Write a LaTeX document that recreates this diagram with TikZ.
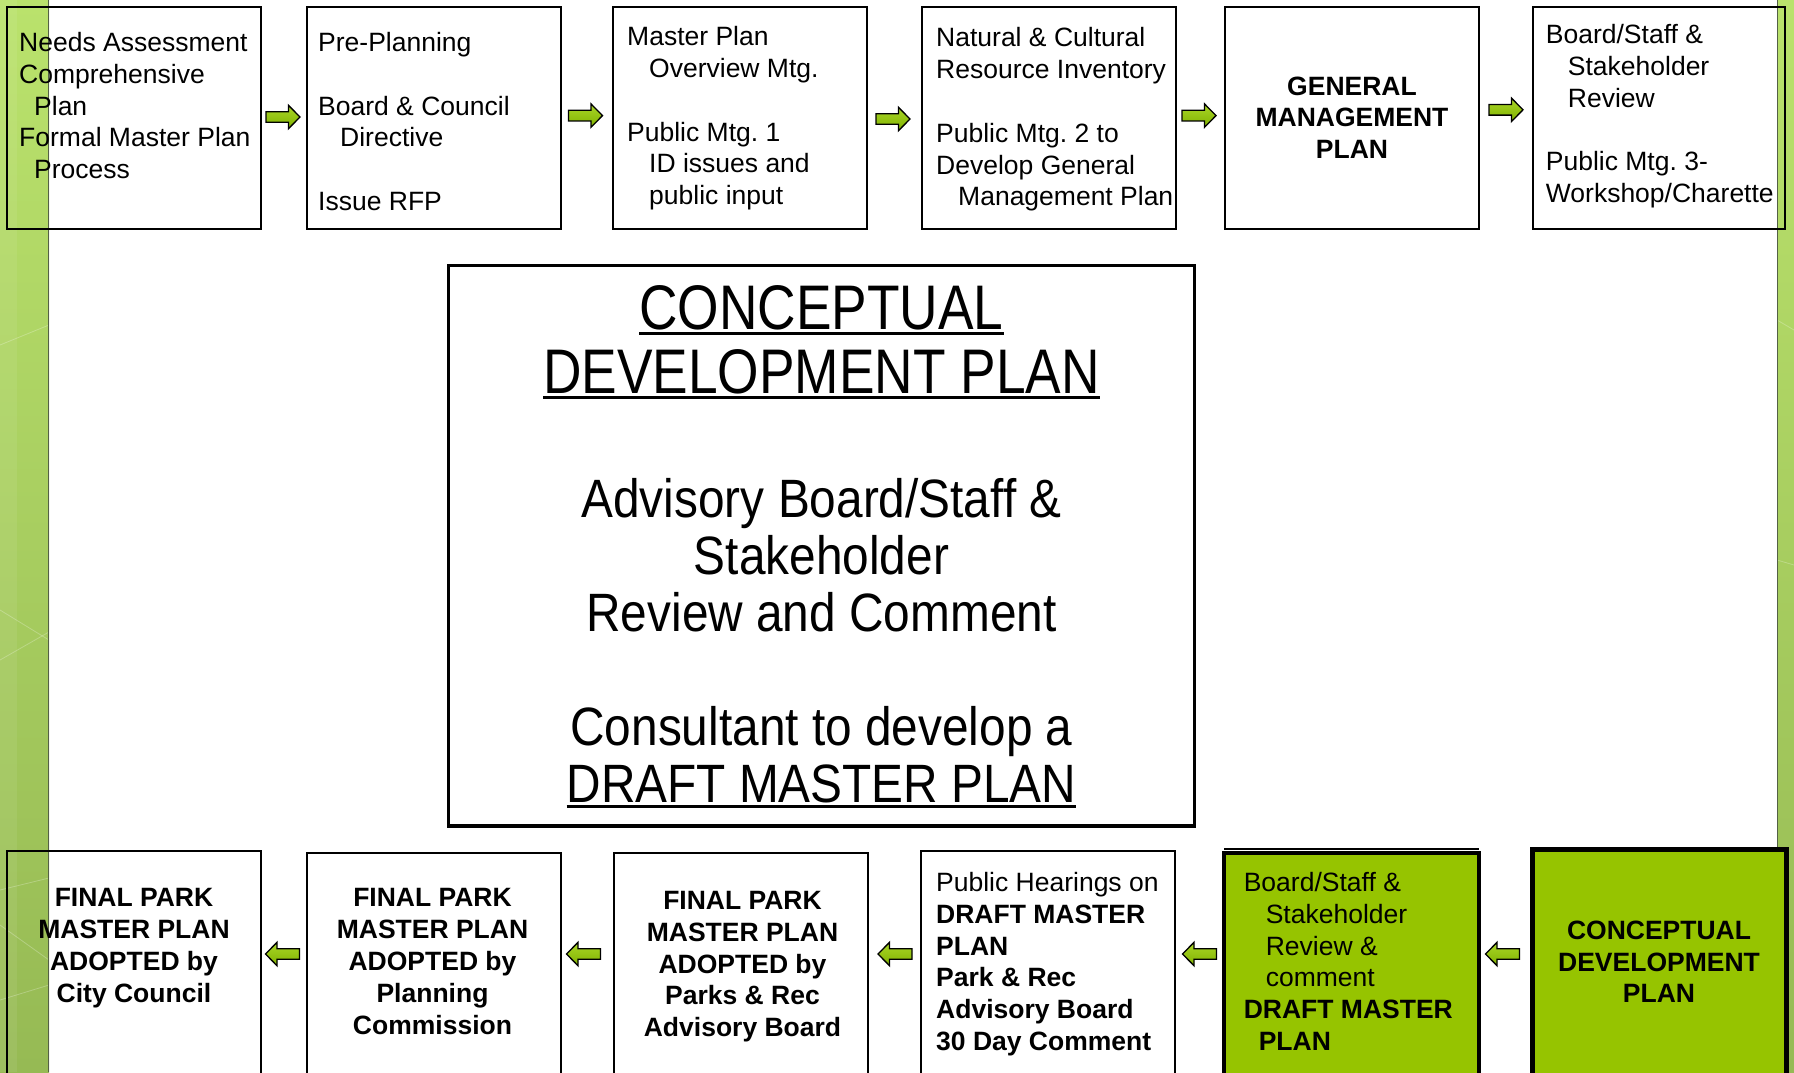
\documentclass[tikz,border=0pt]{standalone}
\usepackage{fontspec}
\setmainfont{Liberation Sans}
\newfontfamily\headfont[FakeStretch=0.846]{Liberation Sans}
\newfontfamily\bodyfont[FakeStretch=0.885]{Liberation Sans}
\usetikzlibrary{calc}
\definecolor{lime}{RGB}{150,196,0}
\definecolor{arrtop}{RGB}{170,214,40}
\definecolor{arrbot}{RGB}{128,178,0}
\definecolor{bandtop}{RGB}{186,226,108}
\definecolor{bandbot}{RGB}{150,186,84}
\definecolor{bandedge}{RGB}{84,96,70}
\newsavebox\ulbox
\newcommand\myul[1]{\sbox\ulbox{#1}\rlap{\rule[-5.5pt]{\wd\ulbox}{3pt}}\usebox\ulbox}
\newcommand\indA{\hspace*{15pt}}
\newcommand\indB{\hspace*{22pt}}
\frenchspacing
\tikzset{
  frame/.style={draw=black, line width=2pt, inner sep=0pt, outer sep=0pt, anchor=north west},
  greenframe/.style={frame, fill=lime, line width=4pt},
  txt/.style={inner sep=0pt, font=\fontsize{26.5pt}{31.8pt}\selectfont\frenchspacing},
  ltxt/.style={txt, align=left, anchor=north west},
  ctxt/.style={inner sep=0pt, align=center, anchor=north, font=\fontsize{26.5pt}{31.8pt}\selectfont\bfseries},
  arr/.style={draw=black, line width=1.3pt, top color=arrtop, bottom color=arrbot},
  rarr/.pic={\path[arr] (-17,-5.3) -- (5.5,-5.3) -- (5.5,-11.7) -- (17,0) -- (5.5,11.7) -- (5.5,5.3) -- (-17,5.3) -- cycle;},
  larr/.pic={\path[arr] (17,-5.3) -- (-5.5,-5.3) -- (-5.5,-11.7) -- (-17,0) -- (-5.5,11.7) -- (-5.5,5.3) -- (17,5.3) -- cycle;},
  deco/.style={white, opacity=0.25, line width=0.8pt}
}
\begin{document}
\begin{tikzpicture}[x=1pt,y=-1pt]
\useasboundingbox (0,0) rectangle (1794,1072);
\clip (0,0) rectangle (1794,1072);
\fill[white] (0,0) rectangle (1794,1072);
% side bands
\shade[top color=bandtop, bottom color=bandbot] (0,0) rectangle (49,1072);
\fill[white, opacity=0.07] (0,0) rectangle (17,1072);
\draw[deco] (0,345) -- (49,325);
\draw[deco] (0,610) -- (49,640);
\draw[deco] (0,660) -- (49,632);
\draw[deco] (0,890) -- (49,878);
\draw[deco] (0,925) -- (49,960);
\draw[deco] (0,1000) -- (49,985);
\draw[bandedge, line width=1.5pt] (48.5,0) -- (48.5,1072);
\shade[top color=bandtop, bottom color=bandbot] (1777,0) rectangle (1794,1072);
\draw[deco] (1777,320) -- (1794,330);
\draw[deco] (1777,560) -- (1794,565);
\draw[bandedge, line width=1.5pt] (1777.5,0) -- (1777.5,1072);

% top row boxes
\node[frame, minimum width=254pt, minimum height=222pt] (T1) at (7,7) {};
\node[frame, minimum width=254pt, minimum height=222pt] (T2) at (307,7) {};
\node[frame, minimum width=254pt, minimum height=222pt] (T3) at (613,7) {};
\node[frame, minimum width=254pt, minimum height=222pt] (T4) at (922,7) {};
\node[frame, minimum width=254pt, minimum height=222pt] (T5) at (1225,7) {};
\node[frame, minimum width=252pt, minimum height=222pt] (T6) at (1533,7) {};

\node[ltxt] (T1x) at ($(T1.north west)+(12,25)$) {Needs Assessment\\ Comprehensive\\ \indA Plan\\ Formal Master Plan\\ \indA Process};
\node[ltxt] (T2x) at ($(T2.north west)+(11,25)$) {Pre-Planning\\ \mbox{}\\ Board \& Council\\ \indB Directive\\ \mbox{}\\ Issue RFP};
\node[ltxt] (T3x) at ($(T3.north west)+(14,19.3)$) {Master Plan\\ \indB Overview Mtg.\\ \mbox{}\\ Public Mtg. 1\\ \indB ID issues and\\ \indB public input};
\node[ltxt] (T4x) at ($(T4.north west)+(14,20.4)$) {Natural \& Cultural\\ Resource Inventory\\ \mbox{}\\ Public Mtg. 2 to\\ Develop General\\ \indB Management Plan};
\node[ctxt] (T5x) at ($(T5.north)+(0,69.3)$) {GENERAL\\ MANAGEMENT\\ PLAN};
\node[ltxt] (T6x) at ($(T6.north west)+(12.7,17)$) {Board/Staff \&\\ \indB Stakeholder\\ \indB Review\\ \mbox{}\\ Public Mtg. 3-\\ Workshop/Charette};

% top arrows
\pic (A1) at ($(T1.east)!0.5!(T2.west)+(-1,-1)$) {rarr};
\pic (A2) at ($(T2.east)!0.5!(T3.west)+(-1.5,-2.4)$) {rarr};
\pic (A3) at ($(T3.east)!0.5!(T4.west)+(-1.5,1)$) {rarr};
\pic (A4) at ($(T4.east)!0.5!(T5.west)+(-1.5,-2.4)$) {rarr};
\pic (A5) at ($(T5.east)!0.5!(T6.west)+(0,-8.2)$) {rarr};

% central box
\node[frame, line width=3.5pt, minimum width=746pt, minimum height=560.6pt] (C) at (448.5,265.4) {};
\node[inner sep=0pt, align=center, anchor=north, font=\fontsize{63pt}{64pt}\headfont] (Ch) at ($(C.north)+(0,19.7)$) {\myul{CONCEPTUAL}\\ \myul{DEVELOPMENT PLAN}};
\node[inner sep=0pt, align=center, anchor=north, font=\fontsize{54pt}{57pt}\bodyfont] (Cb) at ($(C.north)+(0,212.3)$) {Advisory Board/Staff \&\\ Stakeholder\\ Review and Comment\\ \mbox{}\\ Consultant to develop a\\ \myul{DRAFT MASTER PLAN}};

% bottom row boxes
\node[frame, minimum width=254pt, minimum height=229pt] (B1) at (7,851) {};
\node[frame, minimum width=254pt, minimum height=227pt] (B2) at (307,853) {};
\node[frame, minimum width=254pt, minimum height=227pt] (B3) at (614,853) {};
\node[frame, minimum width=254pt, minimum height=229pt] (B4) at (921,851) {};
\draw[line width=1.5pt] (1224,849) -- (1479,849);
\node[greenframe, minimum width=255pt, minimum height=227pt] (B5) at (1224,853) {};
\node[greenframe, line width=5pt, minimum width=254pt, minimum height=231pt] (B6) at (1532,849) {};

\node[ctxt] (B1x) at ($(B1.north)+(0,37.5)$) {FINAL PARK\\ MASTER PLAN\\ ADOPTED by\\ City Council};
\node[ctxt] (B2x) at ($(B2.north)+(-1.5,35.5)$) {FINAL PARK\\ MASTER PLAN\\ ADOPTED by\\ Planning\\ Commission};
\node[ctxt] (B3x) at ($(B3.north)+(1.5,38)$) {FINAL PARK\\ MASTER PLAN\\ ADOPTED by\\ Parks \& Rec\\ Advisory Board};
\node[ltxt] (B4x) at ($(B4.north west)+(15,21)$) {Public Hearings on\\ \textbf{DRAFT MASTER}\\ \textbf{PLAN}\\ \textbf{Park \& Rec}\\ \textbf{Advisory Board}\\ \textbf{30 Day Comment}};
\node[ltxt] (B5x) at ($(B5.north west)+(19.6,19)$) {Board/Staff \&\\ \indB Stakeholder\\ \indB Review \&\\ \indB comment\\ \textbf{DRAFT MASTER}\\ \indA\textbf{PLAN}};
\node[ctxt] (B6x) at ($(B6.north)+(0,71.5)$) {CONCEPTUAL\\ DEVELOPMENT\\ PLAN};

% bottom arrows
\pic (L1) at ($(B1.north east)!0.5!(B2.north west)+(-1.5,102)$) {larr};
\pic (L2) at ($(B2.north east)!0.5!(B3.north west)+(-4,101)$) {larr};
\pic (L3) at ($(B3.north east)!0.5!(B4.north west)+(0.5,102)$) {larr};
\pic (L4) at ($(B4.north east)!0.5!(B5.north west)+(0,102)$) {larr};
\pic (L5) at ($(B5.north east)!0.5!(B6.north west)+(-3,103)$) {larr};
\end{tikzpicture}
\end{document}
